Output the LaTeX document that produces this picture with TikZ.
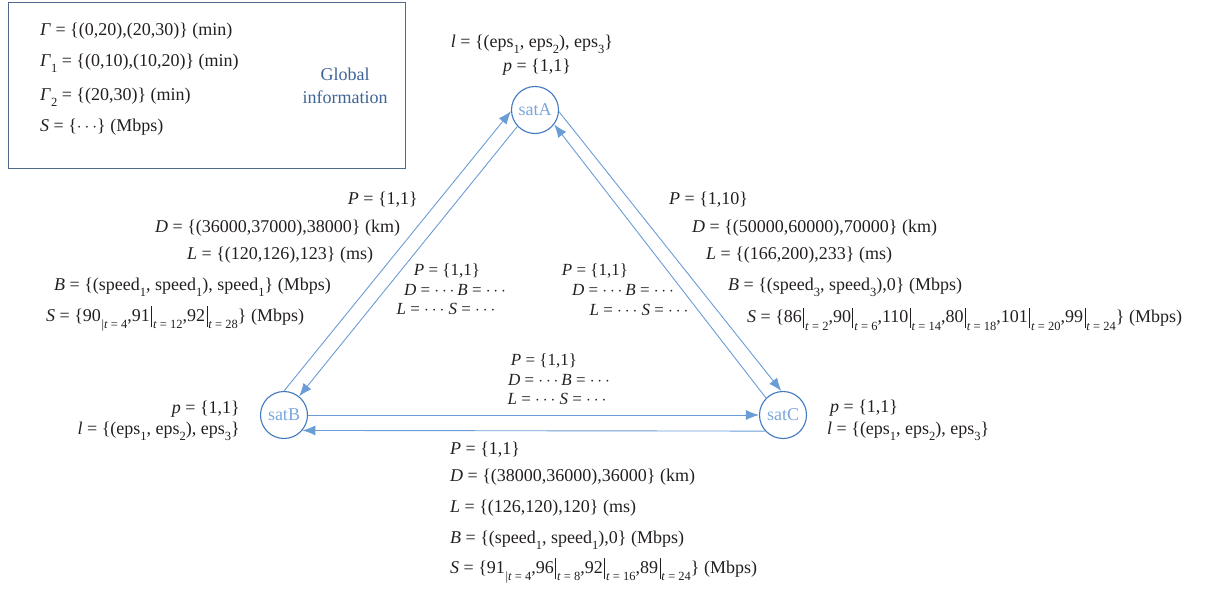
\documentclass[tikz,border=0pt]{standalone}
\usepackage{fontspec}
\setmainfont{Liberation Serif}
\usetikzlibrary{arrows.meta}
\definecolor{linec}{HTML}{6A9CD6}
\definecolor{circc}{HTML}{3F78C0}
\definecolor{sattext}{HTML}{7AA6DC}
\definecolor{boxc}{HTML}{50698C}
\definecolor{gtext}{HTML}{3E6396}
\definecolor{txt}{HTML}{231F20}
\newcommand{\sbt}[1]{\raisebox{-0.32em}{\fontsize{12.5}{12.5}\selectfont #1}}
\newcommand{\tbar}{\rule[-0.3em]{0.05em}{1.15em}}
\newcommand{\evt}[1]{\kern0.08em\tbar\kern0.05em\raisebox{-0.4em}{\fontsize{12.5}{12.5}\selectfont\textit{t} = #1}}
\newcommand{\evs}[1]{\raisebox{-0.4em}{\fontsize{12.5}{12.5}\selectfont\kern0.05em|\textit{t} = #1}}
\newcommand{\dd}{$\cdots$}
\tikzset{
  lbl/.style={inner sep=0pt, text=txt, font=\fontsize{18}{21}\selectfont},
  ilbl/.style={inner sep=0pt, text=txt, font=\fontsize{17}{19}\selectfont, text height=11pt, text depth=2pt},
  sat/.style={circle, draw=circc, line width=1.1pt, minimum size=47pt, inner sep=0pt,
    text=sattext, font=\fontsize{18}{21}\selectfont},
  link/.style={draw=linec, line width=0.9pt, -{Latex[length=13pt,width=10pt]}},
}
\begin{document}
\begin{tikzpicture}[x=1pt,y=-1pt]
\useasboundingbox (0,0) rectangle (1207,589);
% global info box
\node[draw=boxc, line width=1.3pt, minimum width=397pt, minimum height=166pt, anchor=north west, inner sep=0pt] (gbox) at (8,2) {};
\node[lbl, anchor=west] (g1) at (40,31) {\textit{Γ} = \{(0,20),(20,30)\} (min)};
\node[lbl, anchor=west] (g2) at (40,63) {\textit{Γ}\sbt{1} = \{(0,10),(10,20)\} (min)};
\node[lbl, anchor=west] (g3) at (40,97) {\textit{Γ}\sbt{2} = \{(20,30)\} (min)};
\node[lbl, anchor=west] (g4) at (40,127) {\textit{S} = \{\dd\} (Mbps)};
\node[lbl, text=gtext] (gl1) at (345,74) {Global};
\node[lbl, text=gtext] (gl2) at (345,97) {information};
% satellites
\node[sat] (satA) at (535,110) {satA};
\node[sat] (satB) at (284,415) {satB};
\node[sat] (satC) at (783,415) {satC};
% links
\draw[link] (satB.90) -- (satA.183);
\draw[link] (satA.223) -- (satB.51);
\draw[link] (satA.-4) -- (satC.94);
\draw[link] (satC.135) -- (satA.-37);
\draw[link] (satB.0) -- (satC.180);
\draw[link] (satC.222) -- (satB.-40);
% satA labels
\node[lbl] (al1) at (532,44) {\textit{l} = \{(eps\sbt{1}, eps\sbt{2}), eps\sbt{3}\}};
\node[lbl] (al2) at (537,67) {\textit{p} = \{1,1\}};
% satB labels
\node[lbl, anchor=east] (bl1) at (240,409) {\textit{p} = \{1,1\}};
\node[lbl, anchor=east] (bl2) at (240,431) {\textit{l} = \{(eps\sbt{1}, eps\sbt{2}), eps\sbt{3}\}};
% satC labels
\node[lbl, anchor=west] (cl1) at (830,408) {\textit{p} = \{1,1\}};
\node[lbl, anchor=west] (cl2) at (827,431) {\textit{l} = \{(eps\sbt{1}, eps\sbt{2}), eps\sbt{3}\}};
% left edge (B-A) labels
\node[lbl, anchor=east] (ba1) at (418,200) {\textit{P} = \{1,1\}};
\node[lbl, anchor=west] (ba2) at (155,228) {\textit{D} = \{(36000,37000),38000\} (km)};
\node[lbl, anchor=west] (ba3) at (187,255) {\textit{L} = \{(120,126),123\} (ms)};
\node[lbl, anchor=west] (ba4) at (54,287) {\textit{B} = \{(speed\sbt{1}, speed\sbt{1}), speed\sbt{1}\} (Mbps)};
\node[lbl, anchor=west] (ba5) at (46,319) {\textit{S} = \{90\evs{4},91\evt{12},92\evt{28}\} (Mbps)};
% right edge (A-C) labels
\node[lbl, anchor=west] (ac1) at (669,200) {\textit{P} = \{1,10\}};
\node[lbl, anchor=west] (ac2) at (692,228) {\textit{D} = \{(50000,60000),70000\} (km)};
\node[lbl, anchor=west] (ac3) at (706,255) {\textit{L} = \{(166,200),233\} (ms)};
\node[lbl, anchor=west] (ac4) at (728,287) {\textit{B} = \{(speed\sbt{3}, speed\sbt{3}),0\} (Mbps)};
\node[lbl, anchor=west] (ac5) at (747,319) {\textit{S} = \{86\evt{2},90\evt{6},110\evt{14},80\evt{18},101\evt{20},99\evt{24}\} (Mbps)};
% inner left
\node[ilbl] (il1) at (447,271) {\textit{P} = \{1,1\}};
\node[ilbl] (il2) at (455,291) {\textit{D} = \dd\,\textit{B} = \dd};
\node[ilbl] (il3) at (446,310) {\textit{L} = \dd\ \textit{S} = \dd};
% inner right
\node[ilbl] (ir1) at (595,271) {\textit{P} = \{1,1\}};
\node[ilbl] (ir2) at (623,291) {\textit{D} = \dd\,\textit{B} = \dd};
\node[ilbl] (ir3) at (639,311) {\textit{L} = \dd\ \textit{S} = \dd};
% middle
\node[ilbl] (im1) at (544,361) {\textit{P} = \{1,1\}};
\node[ilbl] (im2) at (559,381) {\textit{D} = \dd\,\textit{B} = \dd};
\node[ilbl] (im3) at (557,400) {\textit{L} = \dd\ \textit{S} = \dd};
% bottom (B-C) labels
\node[lbl, anchor=west] (bc1) at (450,450) {\textit{P} = \{1,1\}};
\node[lbl, anchor=west] (bc2) at (450,477) {\textit{D} = \{(38000,36000),36000\} (km)};
\node[lbl, anchor=west] (bc3) at (450,508) {\textit{L} = \{(126,120),120\} (ms)};
\node[lbl, anchor=west] (bc4) at (450,540) {\textit{B} = \{(speed\sbt{1}, speed\sbt{1}),0\} (Mbps)};
\node[lbl, anchor=west] (bc5) at (450,571) {\textit{S} = \{91\evs{4},96\evt{8},92\evt{16},89\evt{24}\} (Mbps)};
\end{tikzpicture}
\end{document}
